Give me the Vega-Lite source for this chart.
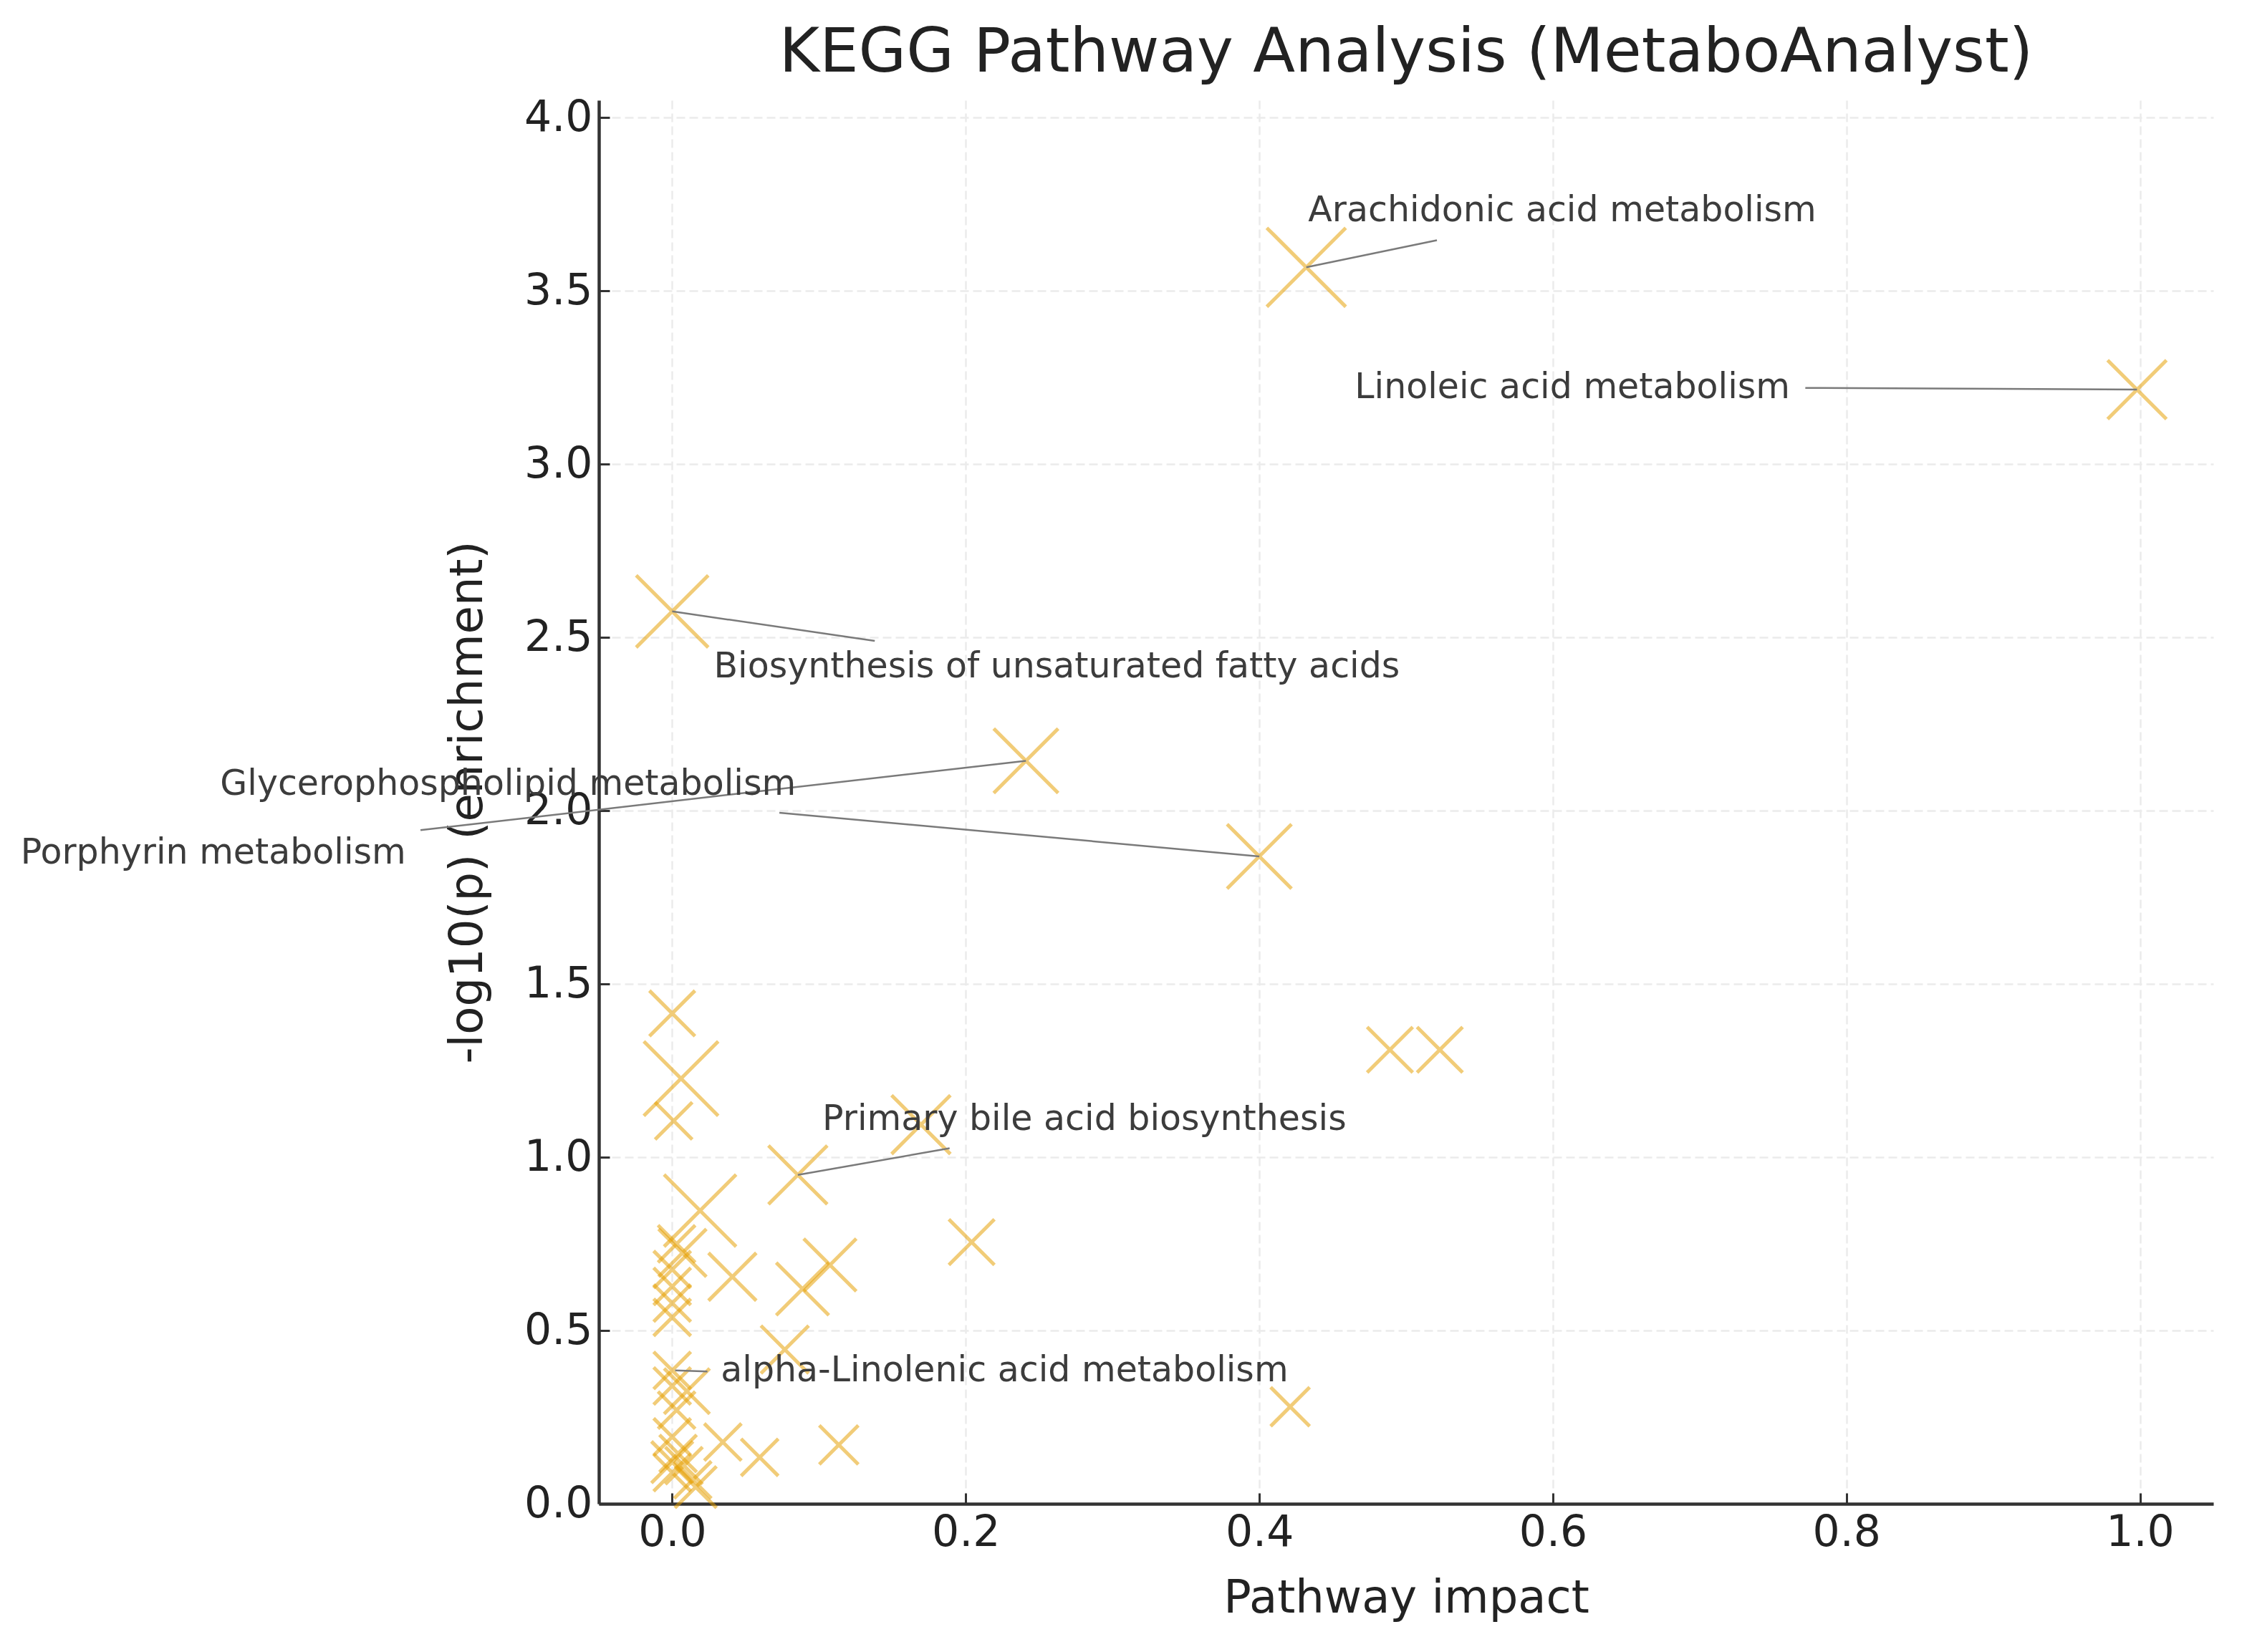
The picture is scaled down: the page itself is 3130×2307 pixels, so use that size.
{
  "$schema": "https://vega.github.io/schema/vega-lite/v6.json",
  "autosize": {"type": "none"},
  "padding": {"left": 836, "top": 140, "right": 40, "bottom": 207},
  "width": 2254,
  "height": 1960,
  "background": "white",
  "title": {
    "text": "KEGG Pathway Analysis (MetaboAnalyst)",
    "font": "DejaVu Sans",
    "fontSize": 86,
    "fontWeight": "normal",
    "color": "#222222",
    "anchor": "middle",
    "frame": "group",
    "baseline": "alphabetic",
    "offset": -52
  },
  "config": {
    "view": {"stroke": null},
    "font": "DejaVu Sans"
  },
  "datasets": {
    "points": [
      {"pathway": "Arachidonic acid metabolism", "impact": 0.432, "logp": 3.568, "hits": 9},
      {"pathway": "Linoleic acid metabolism", "impact": 0.998, "logp": 3.215, "hits": 5},
      {"pathway": "Biosynthesis of unsaturated fatty acids", "impact": 0.0, "logp": 2.575, "hits": 7.5},
      {"pathway": "Porphyrin metabolism", "impact": 0.241, "logp": 2.144, "hits": 6},
      {"pathway": "Glycerophospholipid metabolism", "impact": 0.400, "logp": 1.868, "hits": 6},
      {"pathway": "P6", "impact": 0.0, "logp": 1.415, "hits": 3},
      {"pathway": "P7", "impact": 0.006, "logp": 1.227, "hits": 8},
      {"pathway": "P8", "impact": 0.001, "logp": 1.105, "hits": 2},
      {"pathway": "P9", "impact": 0.489, "logp": 1.31, "hits": 3},
      {"pathway": "P10", "impact": 0.523, "logp": 1.31, "hits": 3},
      {"pathway": "P11", "impact": 0.1695, "logp": 1.094, "hits": 5},
      {"pathway": "Primary bile acid biosynthesis", "impact": 0.0856, "logp": 0.949, "hits": 5},
      {"pathway": "P13", "impact": 0.019, "logp": 0.846, "hits": 7.5},
      {"pathway": "P14", "impact": 0.007, "logp": 0.724, "hits": 3.3},
      {"pathway": "P15", "impact": 0.003, "logp": 0.75, "hits": 2},
      {"pathway": "P16", "impact": 0.204, "logp": 0.755, "hits": 3},
      {"pathway": "P17", "impact": 0.041, "logp": 0.655, "hits": 3.3},
      {"pathway": "P18", "impact": 0.1075, "logp": 0.689, "hits": 4},
      {"pathway": "P19", "impact": 0.0888, "logp": 0.62, "hits": 4},
      {"pathway": "P20", "impact": 0.0, "logp": 0.676, "hits": 2},
      {"pathway": "P21", "impact": 0.0, "logp": 0.627, "hits": 2},
      {"pathway": "P22", "impact": 0.0, "logp": 0.579, "hits": 2},
      {"pathway": "P23", "impact": 0.0, "logp": 0.538, "hits": 2},
      {"pathway": "P24", "impact": 0.0767, "logp": 0.445, "hits": 3.3},
      {"pathway": "alpha-Linolenic acid metabolism", "impact": 0.0, "logp": 0.385, "hits": 2},
      {"pathway": "P26", "impact": 0.010, "logp": 0.325, "hits": 3},
      {"pathway": "P27", "impact": 0.0, "logp": 0.34, "hits": 2},
      {"pathway": "P28", "impact": 0.003, "logp": 0.27, "hits": 2},
      {"pathway": "P29", "impact": 0.421, "logp": 0.28, "hits": 2.2},
      {"pathway": "P30", "impact": 0.0345, "logp": 0.178, "hits": 2},
      {"pathway": "P31", "impact": 0.0596, "logp": 0.134, "hits": 2},
      {"pathway": "P32", "impact": 0.1135, "logp": 0.17, "hits": 2.2},
      {"pathway": "P33", "impact": 0.0, "logp": 0.193, "hits": 2},
      {"pathway": "P34", "impact": 0.004, "logp": 0.145, "hits": 2},
      {"pathway": "P35", "impact": 0.008, "logp": 0.11, "hits": 2},
      {"pathway": "P36", "impact": 0.0, "logp": 0.09, "hits": 2},
      {"pathway": "P37", "impact": 0.014, "logp": 0.069, "hits": 2},
      {"pathway": "P38", "impact": 0.016, "logp": 0.048, "hits": 2.5},
      {"pathway": "P39", "impact": 0.0, "logp": 0.12, "hits": 2.5}
    ],
    "labels": [
      {"label": "Arachidonic acid metabolism", "tx": 0.4333, "ty": 3.731, "lx": 0.521, "ly": 3.646, "px": 0.432, "py": 3.568},
      {"label": "Linoleic acid metabolism", "tx": 0.465, "ty": 3.222, "lx": 0.772, "ly": 3.22, "px": 0.998, "py": 3.215},
      {"label": "Biosynthesis of unsaturated fatty acids", "tx": 0.0283, "ty": 2.416, "lx": 0.138, "ly": 2.49, "px": 0.0, "py": 2.575},
      {"label": "Glycerophospholipid metabolism", "tx": -0.308, "ty": 2.077, "lx": 0.073, "ly": 1.994, "px": 0.400, "py": 1.868},
      {"label": "Porphyrin metabolism", "tx": -0.444, "ty": 1.878, "lx": -0.1715, "ly": 1.944, "px": 0.241, "py": 2.144},
      {"label": "Primary bile acid biosynthesis", "tx": 0.1023, "ty": 1.109, "lx": 0.189, "ly": 1.026, "px": 0.0856, "py": 0.949},
      {"label": "alpha-Linolenic acid metabolism", "tx": 0.0331, "ty": 0.385, "lx": 0.024, "ly": 0.382, "px": 0.002, "py": 0.385}
    ]
  },
  "layer": [
    {
      "data": {"name": "points"},
      "mark": {
        "type": "point",
        "shape": "M-1,-1L1,1M-1,1L1,-1",
        "filled": false,
        "stroke": "#E69F00",
        "strokeOpacity": 0.75,
        "strokeWidth": 5,
        "clip": false
      },
      "encoding": {
        "x": {
          "field": "impact", "type": "quantitative",
          "scale": {"domain": [-0.05, 1.05], "nice": false, "zero": false},
          "axis": {
            "title": "Pathway impact",
            "values": [0, 0.2, 0.4, 0.6, 0.8, 1.0],
            "format": ".1f",
            "grid": true, "gridColor": "#ebebeb", "gridDash": [12, 6], "gridWidth": 2.5,
            "domainColor": "#333333", "domainWidth": 4.5,
            "tickColor": "#333333", "tickWidth": 3, "tickSize": -15,
            "labelFont": "DejaVu Sans", "labelFontSize": 60, "labelColor": "#222222", "labelPadding": 26,
            "titleFont": "DejaVu Sans", "titleFontSize": 64, "titleFontWeight": "normal", "titleColor": "#222222", "titlePadding": 30
          }
        },
        "y": {
          "field": "logp", "type": "quantitative",
          "scale": {"domain": [0, 4.05], "nice": false, "zero": false},
          "axis": {
            "title": "-log10(p) (enrichment)",
            "values": [0, 0.5, 1, 1.5, 2, 2.5, 3, 3.5, 4],
            "format": ".1f",
            "grid": true, "gridColor": "#ebebeb", "gridDash": [12, 6], "gridWidth": 2.5,
            "domainColor": "#333333", "domainWidth": 4.5,
            "tickColor": "#333333", "tickWidth": 3, "tickSize": -15,
            "labelFont": "DejaVu Sans", "labelFontSize": 60, "labelColor": "#222222", "labelPadding": 24,
            "titleFont": "DejaVu Sans", "titleFontSize": 64, "titleFontWeight": "normal", "titleColor": "#222222", "titlePadding": 46
          }
        },
        "size": {
          "field": "hits", "type": "quantitative",
          "scale": {"domain": [0, 10], "range": [0, 13500]},
          "legend": null
        }
      }
    },
    {
      "data": {"name": "labels"},
      "mark": {"type": "rule", "color": "#7a7a7a", "strokeWidth": 2.5, "clip": false},
      "encoding": {
        "x": {"field": "lx", "type": "quantitative"},
        "y": {"field": "ly", "type": "quantitative"},
        "x2": {"field": "px"},
        "y2": {"field": "py"}
      }
    },
    {
      "data": {"name": "labels"},
      "mark": {"type": "text", "align": "left", "baseline": "middle", "font": "DejaVu Sans", "fontSize": 49, "color": "#3c3c3c", "clip": false},
      "encoding": {
        "x": {"field": "tx", "type": "quantitative"},
        "y": {"field": "ty", "type": "quantitative"},
        "text": {"field": "label"}
      }
    }
  ]
}
